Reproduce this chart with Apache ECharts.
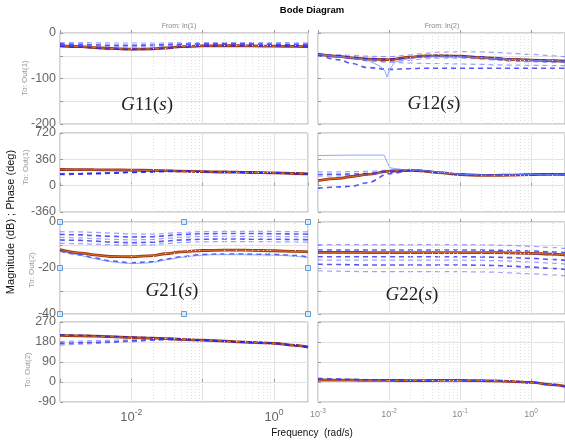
<!DOCTYPE html>
<html>
<head>
<meta charset="utf-8">
<script src="https://cdn.jsdelivr.net/npm/echarts@6/dist/echarts.min.js"></script>
<style>
  html, body { margin: 0; padding: 0; background: #fff; }
  #chart { width: 565px; height: 444px; }
</style>
</head>
<body>
<div id="chart"></div>
<script>
// Frequency grid (rad/s) shared by the sampled responses
const freq = [0.001, 0.002, 0.003, 0.005, 0.01, 0.02, 0.03, 0.05, 0.1, 0.2, 0.3, 0.5, 1, 2, 3];

// G11: magnitude (dB) and phase (deg)
const g11MagNom = [-28, -30, -32, -34, -35.5, -35, -33, -30, -28.5, -28, -28, -28.5, -29, -29.5, -30];
const g11MagSamples = [
  [-21, -21, -21.5, -22, -22, -22, -22, -21.5, -21, -21, -21, -21, -21, -21.5, -22],
  [-24, -25, -26, -27, -27, -26.5, -25.5, -24.5, -24, -24, -24, -24, -24.5, -25, -25],
  [-27, -29, -31, -33, -34, -33, -30, -27, -26, -26, -26, -26, -26.5, -27, -27],
  [-29, -31, -33, -35, -36, -35.5, -33.5, -30.5, -28.5, -28, -28, -28, -28.5, -29, -29.5],
  [-26, -27, -28, -29.5, -30, -29, -27, -25, -24.5, -24.5, -24.5, -25, -25, -25.5, -26]
];
const g11PhNom = [221, 219, 218, 216, 213, 209, 205, 199, 192, 187, 184, 180, 175, 166, 160];
const g11PhSamples = [
  [166, 170, 174, 178, 186, 193, 198, 199, 192, 187, 184, 180, 175, 166, 160],
  [152, 157, 162, 169, 180, 189, 195, 198, 192, 187, 184, 180, 175, 166, 160],
  [224, 222, 220, 218, 215, 211, 206, 200, 193, 188, 184, 180, 175, 166, 160],
  [160, 164, 168, 174, 183, 191, 196, 198, 192, 187, 184, 180, 175, 166, 160]
];

// G12
const g12MagNom = [-46.5, -51.5, -54.5, -57.5, -58.5, -53, -50.5, -50, -51, -54, -55.5, -58, -59.5, -61, -62];
const g12MagSamples = [
  [-47, -48, -49, -51, -52, -48, -45, -42, -41, -41.5, -42.5, -44.5, -47, -50, -52],
  [-47, -50, -53, -56, -57.5, -54, -51.5, -50, -50.5, -52.5, -54.5, -57, -59, -60.5, -61.5],
  [-48, -53, -57, -61, -63, -60, -57, -55, -55.5, -57.5, -59.5, -62, -63.5, -64.5, -65],
  [-48, -59, -67, -76, -80, -78.5, -77.5, -77.5, -77.5, -77.5, -77.5, -77.5, -77.5, -77.5, -77.5],
  [-48, -52, -56, -61, -64, -66, -67, -67, -68, -69, -70, -70.5, -71, -71.5, -72]
];
const g12NotchFreq = [0.001, 0.002, 0.003, 0.005, 0.0075, 0.0088, 0.0094, 0.0101, 0.012, 0.02, 0.05, 0.1, 0.3, 1, 3];
const g12NotchMag = [-47, -52, -55, -60, -73, -84, -97, -82, -64, -55, -51, -52, -56, -60, -62];
const g12PhNom = [69, 100, 125, 155, 198, 210, 200, 178, 152, 140, 140, 145, 152, 155, 155];
const g12PhSamples = [
  [188, 190, 192, 196, 210, 222, 212, 188, 158, 146, 145, 148, 153, 156, 156],
  [152, 156, 160, 167, 192, 216, 207, 184, 155, 143, 143, 147, 153, 155, 155],
  [129, 133, 138, 146, 186, 212, 204, 181, 154, 142, 142, 146, 152, 155, 155],
  [-33, -17, -8, 40, 165, 203, 200, 180, 155, 144, 144, 147, 152, 155, 155]
];
const g12JumpFreq = [0.001, 0.003, 0.0085, 0.0103, 0.015, 0.03, 0.05, 0.1, 0.3, 1, 3];
const g12JumpPh = [412, 418, 418, 244, 222, 210, 185, 155, 142, 152, 155];

// G21
const g21MagNom = [-12, -13.5, -14.3, -15, -15.1, -14.6, -13.8, -13, -12.4, -12.2, -12.2, -12.3, -12.5, -12.8, -13];
const g21MagSamples = [
  [-4.2, -4.3, -4.5, -4.8, -5.2, -5.3, -5, -4.5, -4.2, -4.1, -4.1, -4.1, -4.1, -4.2, -4.3],
  [-5.4, -5.6, -5.9, -6.2, -6.5, -6.4, -6, -5.4, -5.1, -5, -5, -5, -5.1, -5.2, -5.3],
  [-6.7, -6.9, -7.2, -7.5, -7.8, -7.6, -7.1, -6.6, -6.3, -6.2, -6.2, -6.3, -6.3, -6.4, -6.5],
  [-7.8, -8, -8.3, -8.7, -9, -8.8, -8.3, -7.8, -7.5, -7.4, -7.4, -7.5, -7.5, -7.6, -7.7],
  [-9.3, -9.4, -9.6, -9.9, -10.1, -9.9, -9.4, -8.9, -8.6, -8.5, -8.5, -8.5, -8.6, -8.7, -8.8],
  [-12.6, -14.3, -15.6, -16.9, -17.7, -17.3, -16.2, -15.1, -14.1, -13.9, -13.9, -14, -14.1, -14.6, -15.2]
];
const g21MagLight = [-12.8, -14.6, -15.9, -17.2, -18, -17.6, -16.5, -15.4, -14.4, -14.2, -14.2, -14.3, -14.4, -14.9, -15.5];
const g21PhNom = [210, 208, 206, 204, 200, 197, 195, 192, 188, 184, 181, 178, 174, 165, 157];
const g21PhSamples = [
  [182, 184, 186, 188, 190, 192, 193, 192, 188, 184, 181, 178, 174, 165, 157],
  [173, 176, 178, 181, 185, 189, 191, 192, 188, 184, 181, 178, 174, 165, 157],
  [166, 170, 173, 177, 182, 187, 190, 191, 188, 184, 181, 178, 174, 165, 157],
  [212, 210, 208, 205, 202, 199, 197, 193, 188, 184, 181, 178, 174, 165, 157]
];

// G22
const g22MagNom = [-13.2, -13.2, -13.2, -13.3, -13.3, -13.3, -13.3, -13.3, -13.3, -13.3, -13.3, -13.4, -13.6, -14, -14.3];
const g22MagSamples = [
  [-9.8, -9.8, -9.8, -9.8, -9.8, -9.8, -9.8, -9.8, -9.8, -9.9, -10, -10.2, -10.6, -11.1, -11.5],
  [-12.2, -12.2, -12.2, -12.2, -12.2, -12.2, -12.2, -12.2, -12.2, -12.2, -12.3, -12.4, -12.6, -13, -13.3],
  [-13.5, -13.6, -13.6, -13.6, -13.6, -13.6, -13.6, -13.6, -13.6, -13.6, -13.7, -13.8, -14, -14.4, -14.7],
  [-15.1, -15.1, -15.1, -15.1, -15.1, -15.1, -15.1, -15.1, -15.1, -15.2, -15.3, -15.5, -15.8, -16.3, -16.6],
  [-16.5, -16.6, -16.6, -16.6, -16.6, -16.6, -16.6, -16.6, -16.6, -16.7, -16.8, -17, -17.4, -17.9, -18.3],
  [-18.4, -18.5, -18.6, -18.7, -18.7, -18.7, -18.7, -18.7, -18.7, -18.8, -18.9, -19.2, -19.6, -20.2, -20.6],
  [-21.2, -21.4, -21.5, -21.6, -21.6, -21.6, -21.6, -21.6, -21.6, -21.7, -21.8, -22.1, -22.5, -23, -23.3]
];
const g22PhNom = [9, 8.5, 8, 7.5, 7, 6.5, 6.5, 7, 7, 6, 5, 3, -2, -12, -20];
const g22PhSamples = [
  [18, 15, 13, 11, 8.5, 7.5, 7, 7, 7, 6, 5, 3, -2, -12, -20],
  [14, 12, 11, 10, 8, 7, 6.8, 7, 7, 6, 5, 3, -2, -12, -20],
  [11, 10, 9.5, 9, 8, 7, 6.8, 7, 7, 6, 5, 3, -2, -12, -20]
];

// Axis settings per row: magnitude / phase
const rowRanges = [
  { min: -200, max: 0, interval: 50, labelStep: 100 },
  { min: -360, max: 720, interval: 360, labelStep: 360 },
  { min: -40, max: 0, interval: 10, labelStep: 20 },
  { min: -90, max: 270, interval: 90, labelStep: 90 }
];
const rowLabels = ['To: Out(1)', 'To: Out(1)', 'To: Out(2)', 'To: Out(2)'];
const colLabels = ['From: In(1)', 'From: In(2)'];
const xMin = 0.001, xMax = 3;

const rowTop = [33, 133, 222, 322];
const rowHeight = [91, 79, 92, 80];
const colLeft = [60, 318];
const panelWidth = 248;

const FONT = 'Liberation Sans, Arial, sans-serif';
const NOM_DARK = '#9a3812';
const NOM_LIGHT = '#dc6e2a';

// Decade subdivisions for dotted minor grid
const minorFreq = [];
for (let e = -3; e <= 0; e++) {
  for (let k = 2; k <= 9; k++) {
    const v = k * Math.pow(10, e);
    if (v < xMax) minorFreq.push(v);
  }
}

const grids = [], xAxes = [], yAxes = [], series = [];

for (let r = 0; r < 4; r++) {
  for (let c = 0; c < 2; c++) {
    const gi = r * 2 + c;
    const rg = rowRanges[r];
    grids.push({
      left: colLeft[c], top: rowTop[r], width: panelWidth, height: rowHeight[r],
      show: true, borderColor: '#a6a6a6', borderWidth: 1, backgroundColor: '#fff'
    });
    xAxes.push({
      type: 'log', logBase: 10, gridIndex: gi, min: xMin, max: xMax,
      axisLine: { show: false },
      axisTick: { show: true, inside: true, length: 3, lineStyle: { color: '#9a9a9a' } },
      splitLine: { show: true, lineStyle: { color: '#e3e3e3', width: 1 } },
      axisLabel: {
        show: r === 3,
        margin: c === 0 ? 6 : 6,
        showMinLabel: true, showMaxLabel: false,
        formatter: function (v) {
          const p = Math.log10(v);
          const e = Math.round(p);
          if (Math.abs(p - e) > 1e-6) return '';
          if (c === 0 && e % 2 !== 0) return '';
          return '{b|10}{e|' + e + '}';
        },
        rich: c === 0 ? {
          b: { fontSize: 13, fontFamily: FONT, color: '#666' },
          e: { fontSize: 8.5, fontFamily: FONT, color: '#666', padding: [0, 0, 9, 0] }
        } : {
          b: { fontSize: 9, fontFamily: FONT, color: '#888' },
          e: { fontSize: 6.5, fontFamily: FONT, color: '#888', padding: [0, 0, 6, 0] }
        }
      }
    });
    yAxes.push({
      type: 'value', gridIndex: gi, min: rg.min, max: rg.max, interval: rg.interval,
      axisLine: { show: false },
      axisTick: { show: true, inside: true, length: 3, lineStyle: { color: '#9a9a9a' } },
      splitLine: { show: true, lineStyle: { color: '#e3e3e3', width: 1 } },
      axisLabel: {
        show: c === 0, margin: 4, fontSize: 12.5, fontFamily: FONT, color: '#666',
        formatter: function (v) { return (v % rg.labelStep === 0) ? String(v) : ''; }
      }
    });
    // dotted minor grid per decade
    series.push({
      type: 'line', xAxisIndex: gi, yAxisIndex: gi, data: [], silent: true, z: 1,
      markLine: {
        silent: true, symbol: ['none', 'none'], label: { show: false }, animation: false,
        lineStyle: { type: [1, 2], color: '#e0e0e0', width: 1 },
        data: minorFreq.map(f => ({ xAxis: f }))
      }
    });
  }
}

function pairs(fs, vs) { return fs.map((f, i) => [f, vs[i]]); }

function nominal(gi, vals) {
  series.push({
    type: 'line', xAxisIndex: gi, yAxisIndex: gi, data: pairs(freq, vals),
    showSymbol: false, smooth: 0.35, smoothMonotone: 'x', silent: true, z: 3,
    lineStyle: { color: NOM_DARK, width: 2.8 }
  });
  series.push({
    type: 'line', xAxisIndex: gi, yAxisIndex: gi, data: pairs(freq, vals),
    showSymbol: false, smooth: 0.35, smoothMonotone: 'x', silent: true, z: 3,
    lineStyle: { color: NOM_LIGHT, width: 1 }
  });
}

function samples(gi, sets) {
  sets.forEach((vals, k) => {
    const dark = k % 2 === 1;
    series.push({
      type: 'line', xAxisIndex: gi, yAxisIndex: gi, data: pairs(freq, vals),
      showSymbol: false, smooth: 0.35, smoothMonotone: 'x', silent: true, z: 4,
      lineStyle: {
        color: dark ? 'rgba(30,30,240,0.75)' : 'rgba(80,80,255,0.55)',
        width: dark ? 1.6 : 1.2, type: [5, 4]
      }
    });
  });
}

function lightSolid(gi, fs, vals, smooth) {
  series.push({
    type: 'line', xAxisIndex: gi, yAxisIndex: gi, data: pairs(fs, vals),
    showSymbol: false, smooth: smooth, silent: true, z: 4,
    lineStyle: { color: 'rgba(100,140,255,0.75)', width: 1 }
  });
}

// Row 1: magnitudes to Out(1)
nominal(0, g11MagNom); samples(0, g11MagSamples);
nominal(1, g12MagNom); samples(1, g12MagSamples); lightSolid(1, g12NotchFreq, g12NotchMag, false);
// Row 2: phases to Out(1)
nominal(2, g11PhNom); samples(2, g11PhSamples);
nominal(3, g12PhNom); samples(3, g12PhSamples); lightSolid(3, g12JumpFreq, g12JumpPh, false);
// Row 3: magnitudes to Out(2)
nominal(4, g21MagNom); samples(4, g21MagSamples); lightSolid(4, freq, g21MagLight, 0.35);
nominal(5, g22MagNom); samples(5, g22MagSamples);
// Row 4: phases to Out(2)
nominal(6, g21PhNom); samples(6, g21PhSamples);
nominal(7, g22PhNom); samples(7, g22PhSamples);

// Selection handles around the G21 magnitude axes
const midX = Math.sqrt(xMin * xMax);
const handleX = [xMin, midX, xMax, xMin, xMax, xMin, midX, xMax];
const handleY = [0, 0, 0, -20, -20, -40, -40, -40];
series.push({
  type: 'scatter', xAxisIndex: 4, yAxisIndex: 4, clip: false, silent: true, z: 10,
  symbol: 'rect', symbolSize: 5,
  itemStyle: { color: '#d7e8f7', borderColor: '#3d8ad2', borderWidth: 1 },
  data: pairs(handleX, handleY)
});

// Text: titles, row/column labels and transfer-function names
const graphic = [
  { type: 'text', x: 312, y: 10, style: { text: 'Bode Diagram', fill: '#000', fontSize: 9.5, fontWeight: 'bold', fontFamily: FONT, align: 'center', verticalAlign: 'middle' } },
  { type: 'text', x: 312, y: 433, style: { text: 'Frequency  (rad/s)', fill: '#111', fontSize: 10, fontFamily: FONT, align: 'center', verticalAlign: 'middle' } },
  { type: 'text', x: 11, y: 222, rotation: Math.PI / 2, style: { text: 'Magnitude (dB) ; Phase (deg)', fill: '#111', fontSize: 11, fontFamily: FONT, align: 'center', verticalAlign: 'middle' } }
];
const colCenters = [179, 442];
colLabels.forEach((t, c) => graphic.push({
  type: 'text', x: colCenters[c], y: 26,
  style: { text: t, fill: '#888', fontSize: 7, fontFamily: FONT, align: 'center', verticalAlign: 'middle' }
}));
const rowLabelX = [25, 26, 32, 28];
const rowLabelY = [78, 167, 270, 370];
rowLabels.forEach((t, r) => graphic.push({
  type: 'text', x: rowLabelX[r], y: rowLabelY[r], rotation: Math.PI / 2,
  style: { text: t, fill: '#999', fontSize: 8, fontFamily: FONT, align: 'center', verticalAlign: 'middle' }
}));
const tfNames = [['11', 147, 105], ['12', 434, 104], ['21', 172, 291], ['22', 412, 295]];
const serif = 'Liberation Serif, Times New Roman, serif';
tfNames.forEach(([idx, x, y]) => graphic.push({
  type: 'text', x: x, y: y, z: 20,
  style: {
    text: '{i|G}{n|' + idx + '(}{i|s}{n|)}', align: 'center', verticalAlign: 'middle',
    rich: {
      i: { fontStyle: 'italic', fontSize: 19, fontFamily: serif, fill: '#222' },
      n: { fontSize: 19, fontFamily: serif, fill: '#222' }
    }
  }
}));

const chart = echarts.init(document.getElementById('chart'), null, { renderer: 'canvas' });
chart.setOption({
  backgroundColor: '#fff',
  animation: false,
  grid: grids,
  xAxis: xAxes,
  yAxis: yAxes,
  series: series,
  graphic: graphic
});
</script>
</body>
</html>
